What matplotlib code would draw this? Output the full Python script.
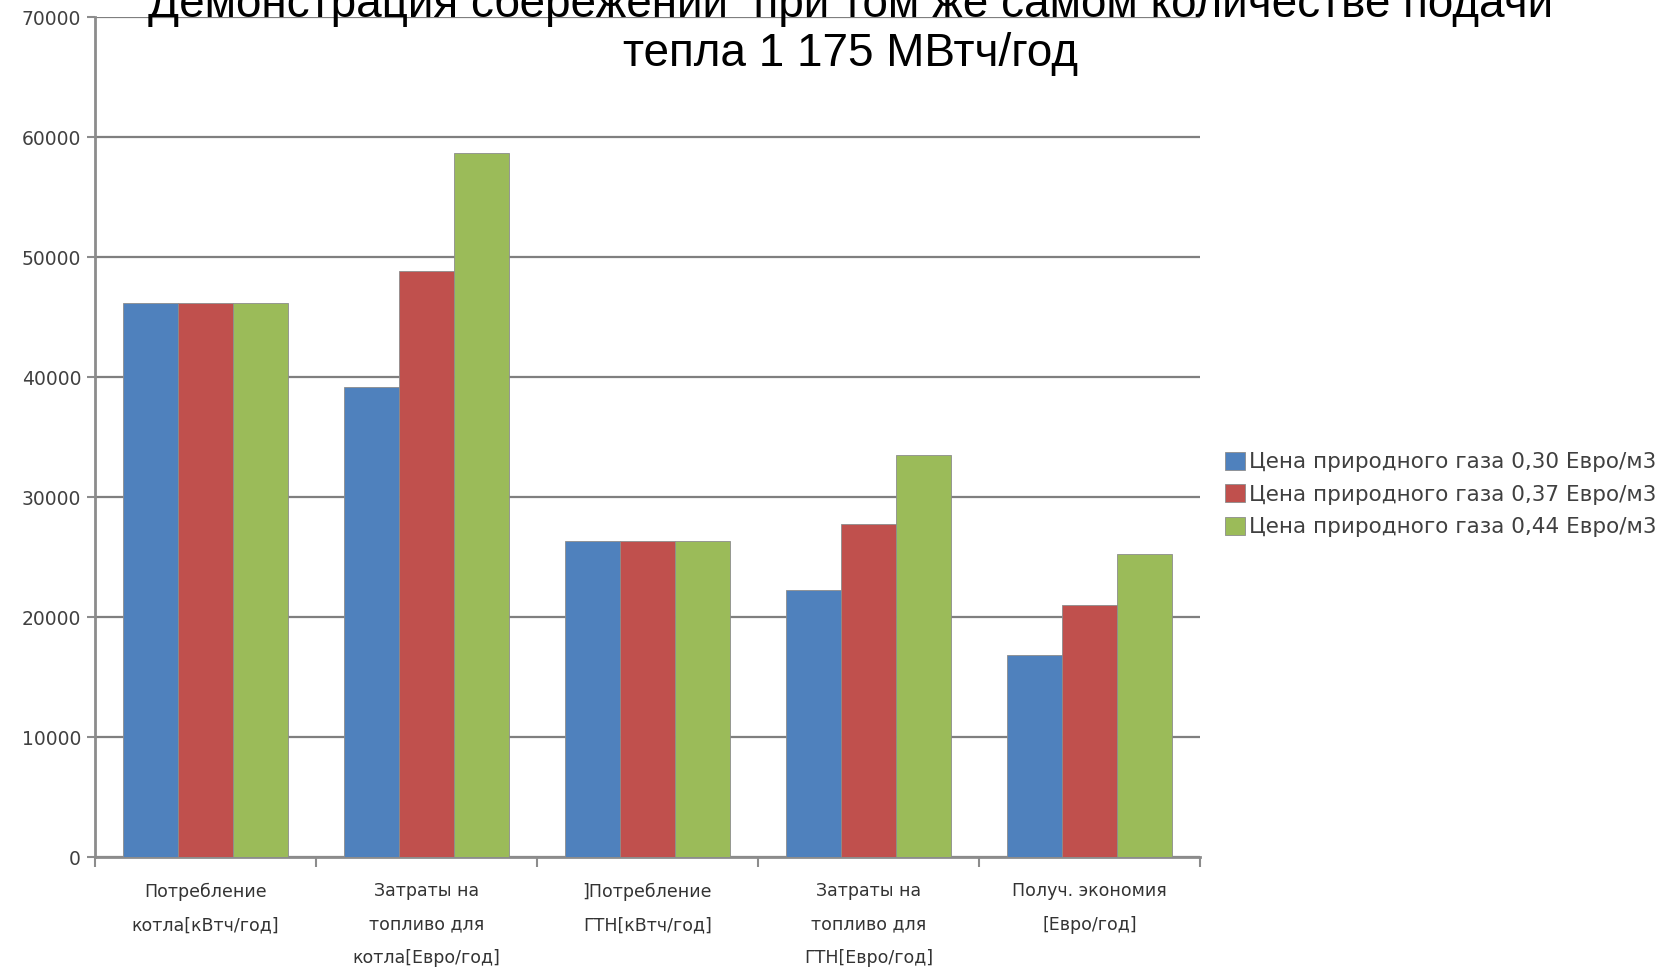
import numpy as np
import matplotlib

matplotlib.use("Agg")
import matplotlib.pyplot as plt

categories = [
    "Потребление\nкотла[кВтч/год]",
    "Затраты на\nтопливо для\nкотла[Евро/год]",
    "]Потребление\nГТН[кВтч/год]",
    "Затраты на\nтопливо для\nГТН[Евро/год]",
    "Получ. экономия\n[Евро/год]",
]
series_names = [
    "Цена природного газа 0,30 Евро/м3",
    "Цена природного газа 0,37 Евро/м3",
    "Цена природного газа 0,44 Евро/м3",
]
price_030 = [46200, 39200, 26400, 22300, 16900]
price_037 = [46200, 48900, 26400, 27800, 21000]
price_044 = [46200, 58700, 26400, 33500, 25300]
colors = ["#4F81BD", "#C0504D", "#9BBB59"]

fig = plt.figure(figsize=(16.75, 9.73), dpi=100)
ax = fig.add_axes([0.0567, 0.1189, 0.6597, 0.8633])

x = np.arange(len(categories))
width = 0.25
for i, (vals, name) in enumerate(zip([price_030, price_037, price_044], series_names)):
    ax.bar(x + (i - 1) * width, vals, width, color=colors[i], edgecolor="#8c8c8c",
           linewidth=0.6, label=name, zorder=3)

ax.set_xlim(-0.5, 4.5)
ax.set_ylim(0, 70000)
ax.set_yticks(range(0, 70001, 10000))
ax.yaxis.grid(True, color="#7f7f7f", linewidth=1.6, zorder=0)
ax.tick_params(axis="y", length=6, width=1.5, color="#8c8c8c", labelsize=13.5,
               labelcolor="#404040", pad=4)

ax.set_xticks(x)
ax.set_xticklabels(categories, fontsize=12.5, color="#333333", linespacing=2.1)
ax.tick_params(axis="x", which="major", length=0, pad=18)
ax.set_xticks(np.arange(-0.5, 5, 1), minor=True)
ax.tick_params(axis="x", which="minor", length=7, width=1.5, color="#8c8c8c")

for s in ["top", "right"]:
    ax.spines[s].set_visible(False)
for s in ["left", "bottom"]:
    ax.spines[s].set_color("#8c8c8c")
    ax.spines[s].set_linewidth(2)

leg = fig.legend(loc="center left", bbox_to_anchor=(0.7263, 0.4918), frameon=False,
                 fontsize=15.5, handlelength=0.9, handleheight=0.9, handletextpad=0.2,
                 labelspacing=0.57, borderaxespad=0)
for t in leg.get_texts():
    t.set_color("#404040")

fig.text(0.508, 0.983, "Демонстрация сбережений  при том же самом количестве подачи",
         ha="center", va="baseline", fontsize=33, family="Liberation Sans")
fig.text(0.508, 0.932, "тепла 1 175 МВтч/год", ha="center", va="baseline",
         fontsize=33, family="Liberation Sans")

fig.savefig("out.png", dpi=100)
